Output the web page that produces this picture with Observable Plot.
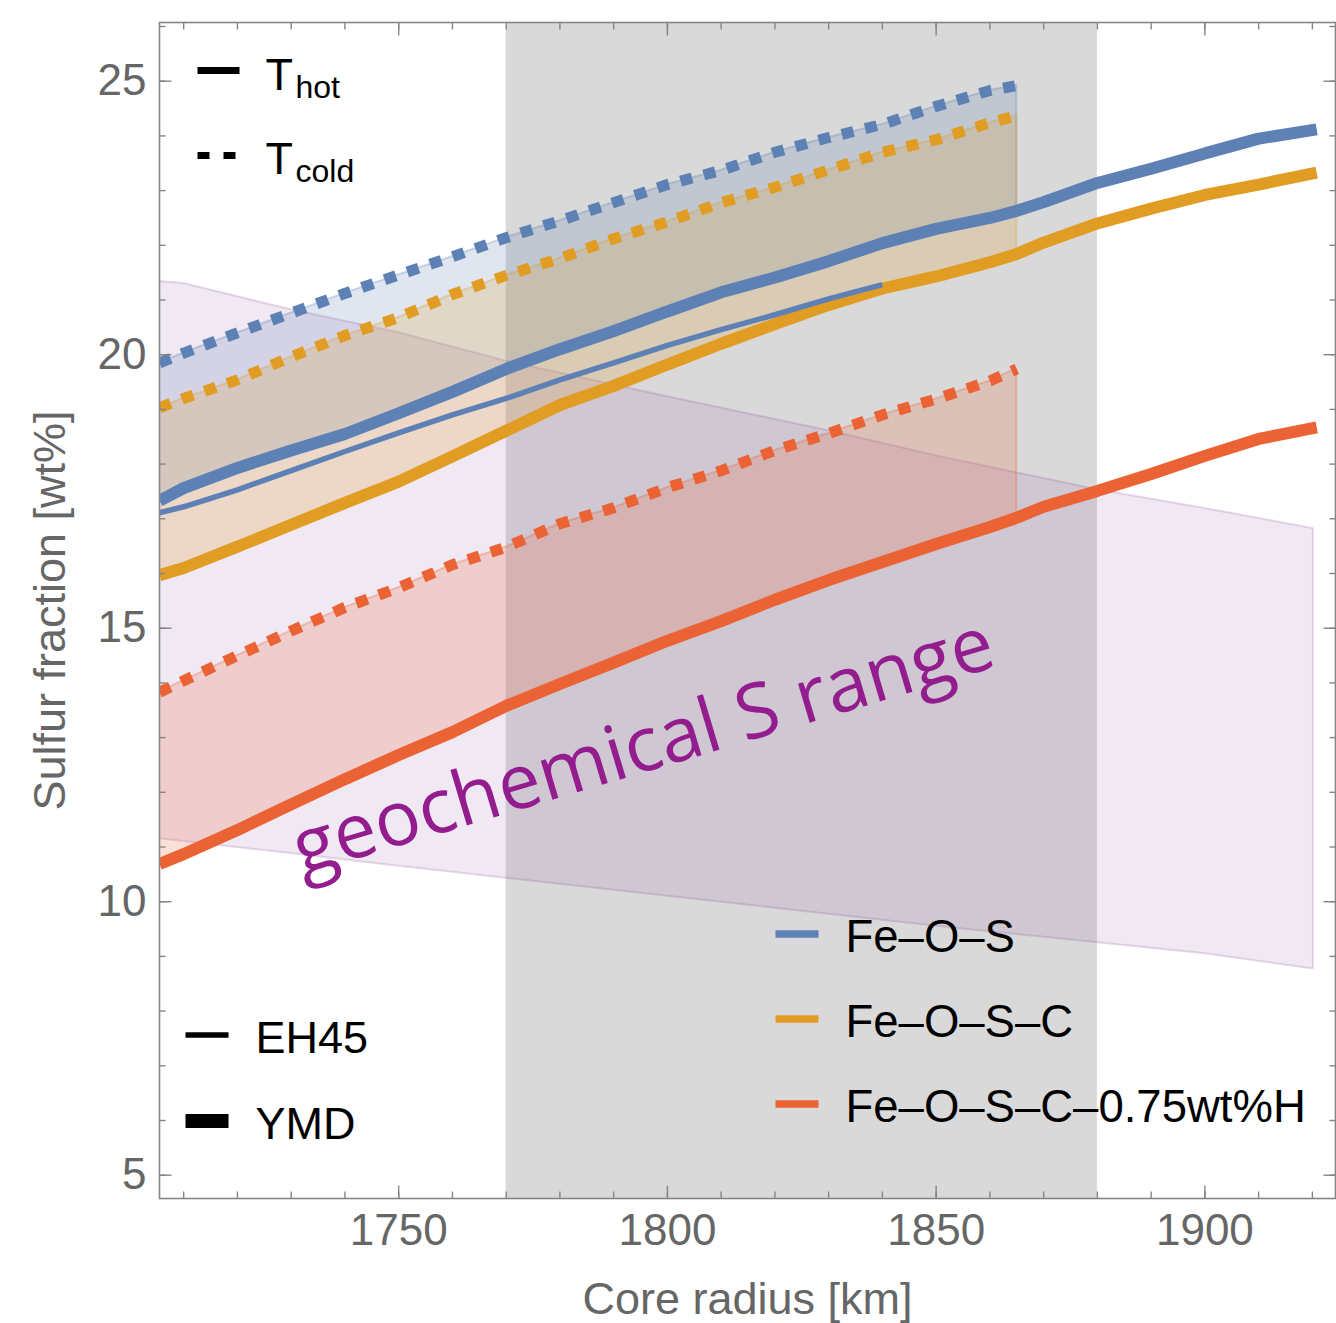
<!DOCTYPE html>
<html>
<head>
<meta charset="utf-8">
<script src="https://cdn.jsdelivr.net/npm/d3@7"></script>
<script src="https://cdn.jsdelivr.net/npm/@observablehq/plot@0.6"></script>
<style>
  html, body { margin: 0; padding: 0; background: #fff; }
  #chart svg { display: block; }
</style>
</head>
<body>
<div id="chart"></div>
<script>
// ---------------- data ----------------
const radius = [1705.5, 1710, 1720, 1730, 1740, 1750, 1760, 1770, 1780, 1790, 1800, 1810,
                1820, 1830, 1840, 1850, 1860, 1865, 1870, 1880, 1890, 1900, 1910, 1920.8];

// Fe–O–S
const feosHotYMD   = [17.33, 17.56, 17.93, 18.25, 18.55, 18.93, 19.32, 19.74, 20.10, 20.43, 20.79, 21.14,
                      21.41, 21.71, 22.04, 22.30, 22.50, 22.63, 22.79, 23.14, 23.40, 23.68, 23.95, 24.12];
const feosColdYMD  = [19.85, 20.03, 20.40, 20.76, 21.12, 21.46, 21.79, 22.14, 22.45, 22.78, 23.11, 23.37,
                      23.70, 23.97, 24.21, 24.54, 24.83, 24.92];
const feosHotEH45  = [17.11, 17.22, 17.53, 17.88, 18.23, 18.57, 18.90, 19.20, 19.54, 19.85, 20.17, 20.46,
                      20.73, 21.02, 21.28];
// Fe–O–S–C
const feoscHotYMD  = [15.97, 16.10, 16.49, 16.89, 17.29, 17.68, 18.14, 18.61, 19.08, 19.43, 19.82, 20.20,
                      20.56, 20.91, 21.21, 21.43, 21.69, 21.84, 22.05, 22.40, 22.67, 22.92, 23.11, 23.33];
const feoscColdYMD = [19.03, 19.20, 19.54, 19.96, 20.35, 20.68, 21.10, 21.45, 21.76, 22.12, 22.43, 22.78,
                      23.06, 23.38, 23.70, 23.93, 24.24, 24.37];
// Fe–O–S–C–0.75wt%H
const feoschHotYMD  = [10.69, 10.87, 11.31, 11.78, 12.24, 12.68, 13.10, 13.58, 13.98, 14.37, 14.77, 15.13,
                       15.52, 15.88, 16.21, 16.54, 16.85, 17.02, 17.22, 17.51, 17.82, 18.15, 18.46, 18.67];
const feoschColdYMD = [13.83, 14.04, 14.50, 14.95, 15.38, 15.74, 16.16, 16.48, 16.91, 17.20, 17.57, 17.88,
                       18.25, 18.56, 18.90, 19.19, 19.52, 19.74];

// geochemical S range
const geoRadius = [1705.5, 1710, 1730, 1750, 1770, 1800, 1830, 1850, 1880, 1900, 1920.2];
const geoUpper  = [21.34, 21.30, 20.82, 20.40, 19.88, 19.23, 18.61, 18.15, 17.53, 17.19, 16.82];
const geoLower  = [11.15, 11.10, 10.88, 10.65, 10.43, 10.10, 9.77, 9.55, 9.25, 9.05, 8.77];

// shaded core radius range
const coreRadiusRange = [1770, 1880];

// labels
const compositions = ["Fe–O–S", "Fe–O–S–C", "Fe–O–S–C–0.75wt%H"];
const tempLabels = ["hot", "cold"];
const modelLabels = ["EH45", "YMD"];
const geoLabel = ["geochemical S range"];
const geoLabelAt = [1796.8, 12.40];   // [radius, wt%]
const xLabel = "Core radius [km]";
const yLabel = "Sulfur fraction [wt%]";
const xMajor = [1750, 1800, 1850, 1900];
const yMajor = [5, 10, 15, 20, 25];

// ---------------- layout / style ----------------
const W = 1336, H = 1323;
const M = {left: 159, right: 1, top: 22, bottom: 125};
const xDomain = [1705.5, 1924.3];
const yDomain = [4.574, 26.073];
const colors = ["#5E81B5", "#E19C24", "#EB6235"];
const font = "'Liberation Sans', Arial, Helvetica, sans-serif";
const axisGray = "#666666";
const frameGray = "#858585";

const xMinor = d3.range(1710, 1921, 10);
const yMinor = d3.range(5, 27, 1);

// pixel -> data helpers for legend placement (same linear maps as the plot scales)
const fx = d3.scaleLinear([M.left, W - M.right], xDomain);
const fy = d3.scaleLinear([H - M.bottom, M.top], yDomain);

const hotYMD = [feosHotYMD, feoscHotYMD, feoschHotYMD];
const coldYMD = [feosColdYMD, feoscColdYMD, feoschColdYMD];

const pts = vals => vals.map((v, i) => ({radius: radius[i], value: v}));
const band = (hot, cold) => cold.map((c, i) => ({radius: radius[i], hot: hot[i], cold: c}));
const geoRows = geoRadius.map((r, i) => ({radius: r, lo: geoLower[i], hi: geoUpper[i]}));

const marks = [];

// gray band
marks.push(Plot.rect([coreRadiusRange], {x1: d => d[0], x2: d => d[1], fill: "#d9d9d9"}));

// geochemical range
marks.push(Plot.areaY(geoRows, {x: "radius", y1: "lo", y2: "hi", fill: "#8a4a9a", fillOpacity: 0.13,
  stroke: "#8a4a9a", strokeOpacity: 0.2, strokeWidth: 2, clip: true}));

// hot–cold fills
compositions.forEach((c, k) => {
  marks.push(Plot.areaY(band(hotYMD[k], coldYMD[k]), {x: "radius", y1: "hot", y2: "cold",
    fill: colors[k], fillOpacity: 0.2, stroke: colors[k], strokeOpacity: 0.3, strokeWidth: 2, clip: true}));
});

// cold (dashed) lines
compositions.forEach((c, k) => {
  marks.push(Plot.line(pts(coldYMD[k]), {x: "radius", y: "value", stroke: colors[k], strokeWidth: 11,
    strokeDasharray: "12,12", strokeLinecap: "butt", strokeLinejoin: "miter", clip: true}));
});

// hot YMD (thick) lines
compositions.forEach((c, k) => {
  marks.push(Plot.line(pts(hotYMD[k]), {x: "radius", y: "value", stroke: colors[k], strokeWidth: 12,
    strokeLinecap: "butt", strokeLinejoin: "miter", clip: true}));
});

// EH45 hot (thin)
marks.push(Plot.line(pts(feosHotEH45), {x: "radius", y: "value", stroke: colors[0], strokeWidth: 5.5,
  strokeLinecap: "butt", clip: true}));

// geochemical label
marks.push(Plot.text(geoLabel, {x: geoLabelAt[0], y: geoLabelAt[1], text: d => d, rotate: -16.7,
  textAnchor: "middle", lineAnchor: "bottom", fontSize: 76, fill: "#931c8e",
  fontFamily: "'Open Sans', 'Noto Sans', sans-serif"}));

// temperature legend (top-left)
tempLabels.forEach((sub, i) => {
  const yc = 70 + 85 * i, yb = 89 + 84 * i;
  marks.push(Plot.link([sub], {x1: fx(197), x2: fx(239), y1: fy(yc), y2: fy(yc), stroke: "black",
    strokeWidth: 7, strokeLinecap: "butt", ...(i ? {strokeDasharray: "12,14"} : {})}));
  marks.push(Plot.text([sub], {x: fx(265), y: fy(yb), text: () => "T", textAnchor: "start",
    lineAnchor: "bottom", fontSize: 45, fill: "black"}));
  marks.push(Plot.text([sub], {x: fx(295), y: fy(yb + 8), text: d => d, textAnchor: "start",
    lineAnchor: "bottom", fontSize: 32, fill: "black"}));
});

// model legend (bottom-left)
modelLabels.forEach((lab, i) => {
  const yc = 1034.5 + 86 * i, yb = 1052.5 + 86 * i;
  marks.push(Plot.link([lab], {x1: fx(185), x2: fx(228), y1: fy(yc), y2: fy(yc), stroke: "black",
    strokeWidth: i ? 14 : 5.5, strokeLinecap: "butt"}));
  marks.push(Plot.text([lab], {x: fx(255), y: fy(yb), text: d => d, textAnchor: "start",
    lineAnchor: "bottom", fontSize: 45, fill: "black"}));
});

// composition legend (bottom-right)
compositions.forEach((lab, i) => {
  const yc = 933.5 + 85 * i, yb = 951.5 + 85 * i;
  marks.push(Plot.link([lab], {x1: fx(775), x2: fx(818), y1: fy(yc), y2: fy(yc), stroke: colors[i],
    strokeWidth: 7.5, strokeLinecap: "butt"}));
  marks.push(Plot.text([lab], {x: fx(845), y: fy(yb), text: d => d, textAnchor: "start",
    lineAnchor: "bottom", fontSize: 45.5, fill: "black"}));
});

// axes: inward ticks on all sides
const tickStyle = {stroke: frameGray, strokeWidth: 1.4, fill: "none", label: null};
marks.push(
  Plot.axisX(xMinor, {anchor: "bottom", tickSize: -6.5, ...tickStyle}),
  Plot.axisX(xMinor, {anchor: "top", tickSize: -6.5, ...tickStyle}),
  Plot.axisX(xMajor, {anchor: "bottom", tickSize: -12.5, ...tickStyle}),
  Plot.axisX(xMajor, {anchor: "top", tickSize: -12.5, ...tickStyle}),
  Plot.axisY(yMinor, {anchor: "left", tickSize: -6.5, ...tickStyle}),
  Plot.axisY(yMinor, {anchor: "right", tickSize: -6.5, ...tickStyle}),
  Plot.axisY(yMajor, {anchor: "left", tickSize: -12.5, ...tickStyle}),
  Plot.axisY(yMajor, {anchor: "right", tickSize: -12.5, ...tickStyle}),
  Plot.axisX(xMajor, {anchor: "bottom", tickSize: 0, tickPadding: 15, tickFormat: "d",
    fontSize: 44, fill: axisGray, label: null}),
  Plot.axisY(yMajor, {anchor: "left", tickSize: 0, tickPadding: 13, tickFormat: "d",
    fontSize: 44, fill: axisGray, label: null}),
  Plot.text([xLabel], {frameAnchor: "bottom", dy: 115, textAnchor: "middle", lineAnchor: "bottom",
    text: d => d, fontSize: 45, fill: axisGray}),
  Plot.text([yLabel], {frameAnchor: "left", dx: -95, rotate: -90, textAnchor: "middle",
    lineAnchor: "bottom", text: d => d, fontSize: 45, fill: axisGray}),
  Plot.frame({stroke: frameGray, strokeWidth: 1.6})
);

const chart = Plot.plot({
  width: W,
  height: H,
  marginLeft: M.left,
  marginRight: M.right,
  marginTop: M.top,
  marginBottom: M.bottom,
  x: {domain: xDomain, axis: null},
  y: {domain: yDomain, axis: null},
  style: {fontFamily: font, background: "white", overflow: "visible"},
  marks
});
document.getElementById("chart").appendChild(chart);
</script>
</body>
</html>
